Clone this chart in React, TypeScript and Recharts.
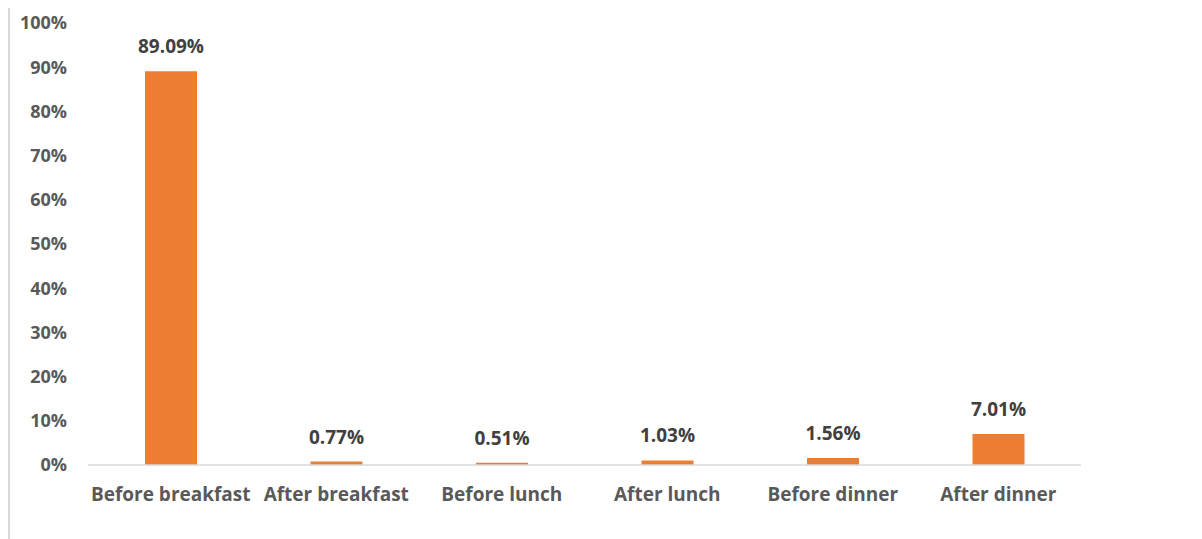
import React from 'react';
import { BarChart, Bar, XAxis, YAxis, LabelList } from 'recharts';

const categories = ['Before breakfast', 'After breakfast', 'Before lunch', 'After lunch', 'Before dinner', 'After dinner'];
const shares = [89.09, 0.77, 0.51, 1.03, 1.56, 7.01];
const yTicks = [0, 10, 20, 30, 40, 50, 60, 70, 80, 90, 100];

const data = categories.map((name, i) => ({ name, value: shares[i] }));

const FONT = '"Open Sans", Lato, sans-serif';

export default function App() {
  return (
    <div style={{ width: 1194, height: 535, borderLeft: '2px solid #d9d9d9', marginTop: -3, boxSizing: 'border-box', fontFamily: FONT }}>
      <BarChart width={1192} height={534} data={data} margin={{ top: 18, right: 121, left: 0, bottom: 34 }}>
        <YAxis
          type="number"
          domain={[0, 100]}
          ticks={yTicks}
          interval={0}
          width={78}
          axisLine={false}
          tickLine={false}
          tickMargin={15}
          tickFormatter={(v: number) => `${v}%`}
          tick={{ fill: '#595959', fontSize: 18, fontWeight: 700, fontFamily: FONT }}
        />
        <XAxis
          dataKey="name"
          height={40}
          axisLine={{ stroke: '#d9d9d9', strokeWidth: 1.5 }}
          tickLine={false}
          tickMargin={17}
          interval={0}
          tick={{ fill: '#595959', fontSize: 19, fontWeight: 700, fontFamily: FONT }}
        />
        <Bar dataKey="value" fill="#ED7D31" barSize={52} isAnimationActive={false}>
          <LabelList
            dataKey="value"
            position="top"
            offset={18}
            formatter={(v: number) => `${v.toFixed(2)}%`}
            style={{ fill: '#404040', fontSize: 19, fontWeight: 700, fontFamily: FONT }}
          />
        </Bar>
      </BarChart>
    </div>
  );
}
